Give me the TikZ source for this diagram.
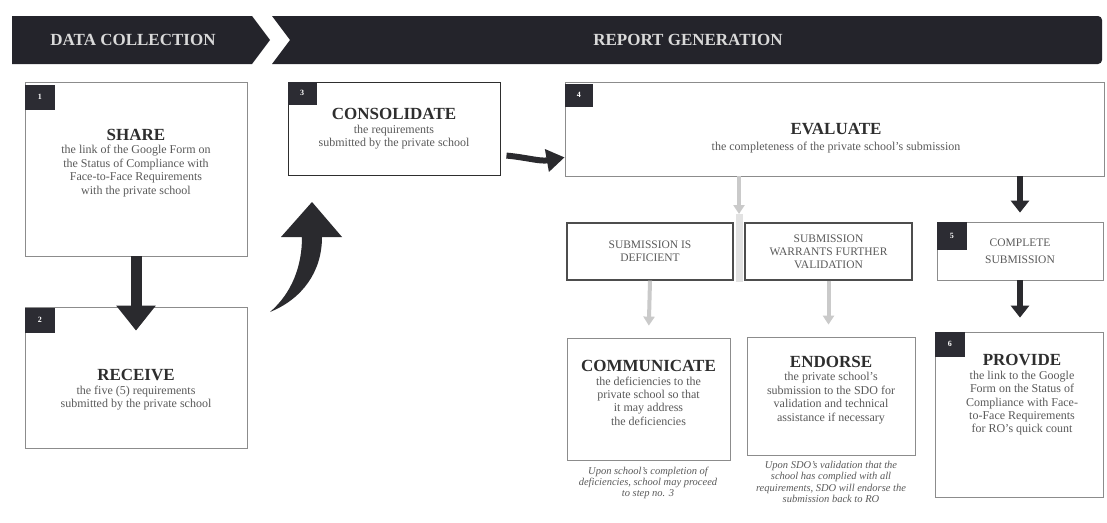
\documentclass[tikz,border=0pt]{standalone}
\usepackage{fontspec}
\setmainfont{Liberation Serif}
\usetikzlibrary{arrows.meta}
\definecolor{headdark}{HTML}{24242B}
\definecolor{badgedark}{HTML}{2C2C33}
\definecolor{titlegray}{HTML}{2E2E2E}
\definecolor{bodygray}{HTML}{5A5A5A}
\definecolor{framegray}{HTML}{8C8C8C}
\definecolor{arrowdark}{HTML}{2A2A2E}
\definecolor{arrowlight}{HTML}{CACACA}
\newcommand{\steptitle}{\fontsize{17}{19}\selectfont\bfseries\color{titlegray}}
\newcommand{\stepbody}{\fontsize{12}{13.4}\selectfont\color{bodygray}}
\newcommand{\stepnote}{\fontsize{10.5}{11.2}\selectfont\itshape\color{bodygray}}
\newcommand{\casefont}{\fontsize{11.5}{13}\selectfont\color{bodygray}}

\begin{document}
\begin{tikzpicture}[x = 1pt, y = -1pt,
    stepbox/.style = {draw = framegray, line width = 0.8pt, fill = white, inner sep = 0pt},
    steptext/.style = {align = center, font = \stepbody, inner sep = 0pt},
    casebox/.style = {draw = titlegray!85, line width = 1.3pt, fill = white, align = center, font = \casefont, inner sep = 0pt},
    badge/.style = {fill = badgedark, text = white, minimum width = 30pt, minimum height = 25pt, inner sep = 0pt, font = \fontsize{8}{8}\selectfont\bfseries, anchor = north west},
    headtext/.style = {text = white!85!black, font = \fontsize{17}{19}\selectfont\bfseries},
    bigarrow/.style = {draw = arrowdark, line width = 11pt, -{Triangle[width = 38pt, length = 25pt]}},
    darkarrow/.style = {draw = arrowdark, line width = 6pt, -{Triangle[width = 18pt, length = 12pt]}},
    lightarrow/.style = {draw = arrowlight, line width = 4pt, -{Triangle[width = 11pt, length = 9pt]}}]
                \useasboundingbox (0,0) rectangle (1107,522);
                \fill[white] (0,0) rectangle (1107,522);
                \fill[headdark] (12,16) -- (252,16) -- (270,40) -- (252,64) -- (12,64) -- cycle;
                \fill[headdark] (272,16) [rounded corners = 4pt] -- (1102,16) -- (1102,64) [sharp corners] -- (272,64) -- (290,40) -- cycle;
                \node[headtext] (datacol) at (133,40) {DATA COLLECTION};
                \node[headtext] (reportgen) at (688,40) {REPORT GENERATION};
                \coordinate (split) at (739,214);
                \coordinate (splitend) at (739,282);
                \draw[draw = arrowlight!55, line width = 7pt] (split) -- (splitend);
                \node[stepbox, minimum width = 222pt, minimum height = 174pt] (share) at (136,169) {};
                \node[stepbox, minimum width = 222pt, minimum height = 141pt] (receive) at (136,377.5) {};
                \node[stepbox, draw = titlegray, line width = 1pt, minimum width = 212pt, minimum height = 93pt] (consolidate) at (394,128.5) {};
                \node[stepbox, minimum width = 539pt, minimum height = 94pt] (evaluate) at (834.5,129) {};
                \node[casebox, minimum width = 166pt, minimum height = 57pt] (deficient) at (650,251.5) {SUBMISSION IS\\DEFICIENT};
                \node[casebox, minimum width = 167pt, minimum height = 57pt] (warrants) at (828.5,251.5) {SUBMISSION\\WARRANTS FURTHER\\VALIDATION};
                \node[stepbox, align = center, font = \casefont, minimum width = 166pt, minimum height = 58pt] (complete) at (1020,251) {COMPLETE\\[4pt]SUBMISSION};
                \node[stepbox, minimum width = 163pt, minimum height = 122pt] (communicate) at (648.5,399) {};
                \node[stepbox, minimum width = 168pt, minimum height = 118pt] (endorse) at (831,396) {};
                \node[stepbox, minimum width = 168pt, minimum height = 165pt] (provide) at (1019,414.5) {};
                \node[badge] (num1) at ([shift = {(0pt,-3pt)}]share.north west) {1};
                \node[badge] (num2) at ([shift = {(0pt,-1pt)}]receive.north west) {2};
                \node[badge, minimum width = 29pt, minimum height = 23pt] (num3) at (consolidate.north west) {3};
                \node[badge, minimum width = 28pt, minimum height = 23pt] (num4) at ([shift = {(0pt,-2pt)}]evaluate.north west) {4};
                \node[badge, minimum height = 28pt] (num5) at (complete.north west) {5};
                \node[badge] (num6) at (provide.north west) {6};
                \node[steptext] (sharetxt) at (136,163) {{\steptitle SHARE}\\ the link of the Google Form on\\ the Status of Compliance with\\ Face-to-Face Requirements\\ with the private school};
                \node[steptext] (receivetxt) at (136,390) {{\steptitle RECEIVE}\\ the five (5) requirements\\ submitted by the private school};
                \node[steptext] (consolidatetxt) at (394,129) {{\steptitle CONSOLIDATE}\\ the requirements\\ submitted by the private school};
                \node[steptext] (evaluatetxt) at (836,138) {{\steptitle EVALUATE}\\[2pt] the completeness of the private school's submission};
                \node[steptext] (communicatetxt) at (648.5,393) {{\steptitle COMMUNICATE}\\ the deficiencies to the\\ private school so that\\ it may address\\ the deficiencies};
                \node[steptext] (endorsetxt) at (831,390) {{\steptitle ENDORSE}\\ the private school's\\ submission to the SDO for\\ validation and technical\\ assistance if necessary};
                \node[steptext] (providetxt) at (1022,395) {{\steptitle PROVIDE}\\ the link to the Google\\ Form on the Status of\\ Compliance with Face-\\ to-Face Requirements\\ for RO's quick count};
                \node[steptext, font = \stepnote] (defnote) at (648,483) {Upon school's completion of\\ deficiencies, school may proceed\\ to step no. 3};
                \node[steptext, font = \stepnote] (endnote) at (831,482) {Upon SDO's validation that the\\ school has complied with all\\ requirements, SDO will endorse the\\ submission back to RO};
                \draw[bigarrow, shorten > = -24pt] (share.south) -- (receive.north);
                \fill[arrowdark] (270,312) .. controls (292,293) and (302,266) .. (302,237) -- (281,237) -- (312,202) -- (342,237) -- (322,237) .. controls (322,272) and (302,299) .. (270,312) -- cycle;
                \draw[draw = arrowdark, line width = 6pt, shorten < = 6pt, -{Triangle[width = 22pt, length = 18pt]}] (consolidate.-14) to[out = -5, in = 190] (evaluate.186);
                \draw[lightarrow] (evaluate.south -| split) -- (split);
                \draw[lightarrow, shorten > = 12pt] (deficient.south) -- (communicate.north);
                \draw[lightarrow, shorten > = 12pt] (warrants.south) -- (warrants.south |- endorse.north);
                \draw[darkarrow, shorten > = 9pt] (evaluate.south -| complete.north) -- (complete.north);
                \draw[darkarrow, shorten > = 14pt] (complete.south) -- (complete.south |- provide.north);
            \end{tikzpicture}
\end{document}
